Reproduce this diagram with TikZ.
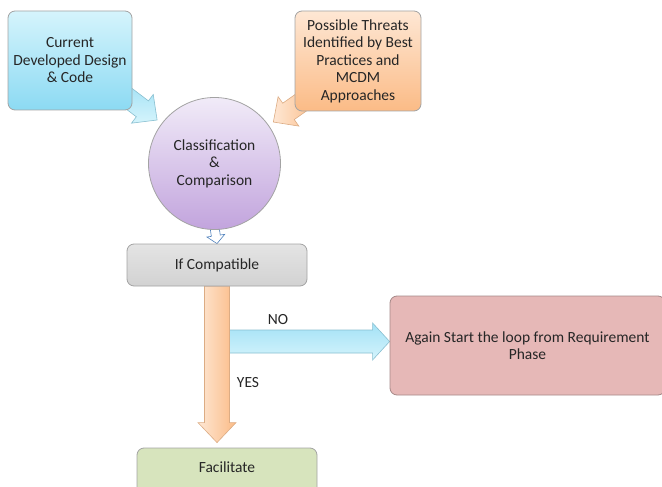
\documentclass[tikz,border=0pt]{standalone}
\usepackage{fontspec}
\setmainfont{Carlito}
\usetikzlibrary{positioning,calc,shapes.geometric,backgrounds}
\definecolor{ink}      {HTML}{262626}
\definecolor{edge}     {HTML}{A3A3A3}
\definecolor{cyantop}  {HTML}{D5F4FC}
\definecolor{cyanbot}  {HTML}{8CDAF3}
\definecolor{peachtop} {HTML}{FEE7D4}
\definecolor{peachbot} {HTML}{FBBB86}
\definecolor{lilactop} {HTML}{F1EBF8}
\definecolor{lilacbot} {HTML}{C2A4DD}
\definecolor{greytop}  {HTML}{E4E4E4}
\definecolor{greybot}  {HTML}{D2D2D2}
\definecolor{rose}     {HTML}{E6B8B7}
\definecolor{roseedge} {HTML}{A58988}
\definecolor{sage}     {HTML}{D7E4BD}
\definecolor{steel}    {HTML}{4F81BD}
\tikzset{
  every node/.style={font=\fontsize{15.5}{17.5}\selectfont, text=ink},
  % --- nodes
  box/.style    = {rounded corners=7pt, draw=edge, line width=0.8pt, align=center, inner sep=3pt},
  inbox/.style  = {box, top color=cyantop, bottom color=cyanbot},
  thbox/.style  = {box, top color=peachtop, bottom color=peachbot},
  hub/.style    = {circle, draw=edge, line width=0.8pt, align=center, top color=lilactop,
                   bottom color=lilacbot, minimum size=132pt, inner sep=0pt},
  test/.style   = {box, top color=greytop, bottom color=greybot},
  loopbox/.style= {box, draw=roseedge, fill=rose},
  endbox/.style = {box, fill=sage},
  lbl/.style    = {inner sep=0pt},
  % --- block arrows
  ba/.style     = {line width=0.6pt, line join=miter},
  bacyan/.style = {ba, draw=cyanbot!70!gray, top color=cyanbot!80, bottom color=cyantop},
  bapeach/.style= {ba, draw=peachbot!75!gray, left color=peachtop, right color=peachbot},
  bastep/.style = {ba, draw=steel, fill=white},
}
% block arrow: [style]{from}{to}{shaft half}{head half}{head length}
\newcommand{\blockarrow}[6][]{%
  \coordinate (ba-base) at ($(#3)!#6!(#2)$);
  \draw[#1] ($(#2)!#4!90:(#3)$) -- ($(ba-base)!#4!90:(#3)$) -- ($(ba-base)!#5!90:(#3)$)
    -- (#3) -- ($(ba-base)!#5!-90:(#3)$) -- ($(ba-base)!#4!-90:(#3)$) -- ($(#2)!#4!-90:(#3)$) -- cycle;
}

\begin{document}
\begin{tikzpicture}[x=1pt,y=-1pt]
  \useasboundingbox (0,0) rectangle (662,487);
  \clip (0,0) rectangle (662,487);

  \node[inbox, minimum width=124pt, minimum height=99pt] (cur) at (70,60.5)
    {Current\\Developed Design\\\& Code};
  \node[thbox, minimum width=126pt, minimum height=100pt] (thr) at (358,61)
    {Possible Threats\\Identified by Best\\Practices and\\MCDM\\Approaches};
  \node[hub] (cls) at (214.5,163.5) {Classification\\\&\\Comparison};
  \node[test, minimum width=180pt, minimum height=42pt] (cmp) at (217,265) {If Compatible};
  \node[loopbox, minimum width=275pt, minimum height=99pt] (again) at (527.5,345.5)
    {Again Start the loop from Requirement\\Phase};
  \node[endbox, minimum width=180pt, minimum height=56pt, text depth=18pt] (fac) at (227,476) {Facilitate};

  \node[lbl] (no)  at (278,320) {NO};
  \node[lbl] (yes) at (248,383) {YES};

  % arrows behind the boxes
  \begin{scope}[on background layer]
    \coordinate (cur-out) at ($(cur.south east)+(-13,-19)$);
    \coordinate (cur-in)  at ($(cls.center)!72pt!(cur-out)$);
    \coordinate (thr-out) at ($(thr.south west)+(18,-17)$);
    \coordinate (thr-in)  at ($(cls.center)!72pt!(thr-out)$);
    \coordinate (cls-out) at ($(cls.south)+(0,-3)$);
    \coordinate (cmp-in)  at (cmp.north);
    \coordinate (yes-tip) at ($(cmp.south |- fac.north)+(0,-5)$);
    \coordinate (no-tip)  at ($(again.west)+(0,-4)$);
    \coordinate (no-from) at (cmp.south |- no-tip);

    \blockarrow[bacyan]{cur-out}{cur-in}{10pt}{18pt}{18.5pt}
    \blockarrow[bapeach]{thr-out}{thr-in}{10pt}{18pt}{18.5pt}
    \blockarrow[bastep]{cls-out}{cmp-in}{4.5pt}{9pt}{8pt}
    \blockarrow[bacyan]{no-from}{no-tip}{11.5pt}{18.5pt}{17pt}
    \blockarrow[bapeach]{cmp.south}{yes-tip}{12.5pt}{19pt}{20pt}
  \end{scope}
\end{tikzpicture}
\end{document}
